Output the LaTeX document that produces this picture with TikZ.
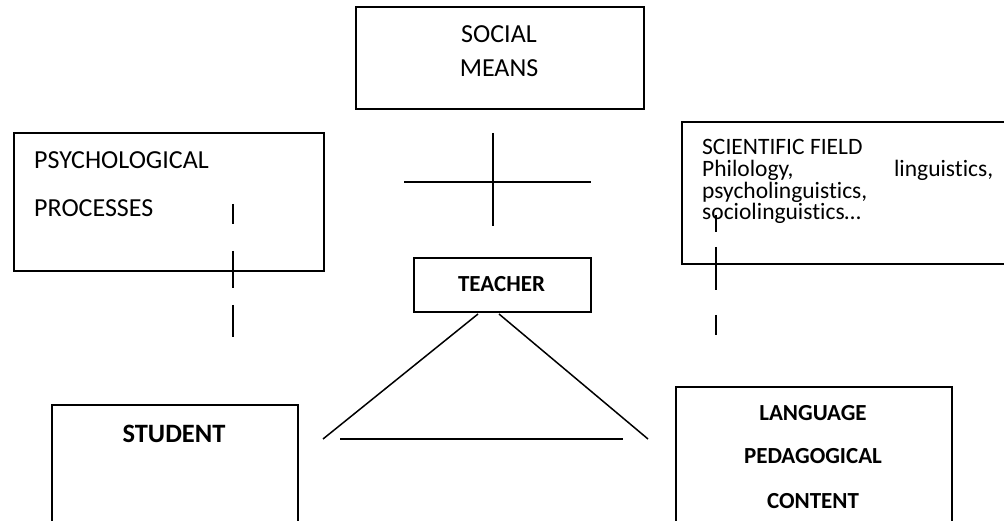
\documentclass[tikz,border=0pt]{standalone}
\usepackage{fontspec}
\setmainfont{Carlito}[Ligatures=NoCommon]
\begin{document}
\begin{tikzpicture}[x=1pt,y=-1pt,
  box/.style={draw,line width=1.6pt,inner sep=0pt,anchor=north west},
  ln/.style={line width=1.5pt},
  txt/.style={inner sep=0pt,font=\fontsize{26}{30}\selectfont},
  btxt/.style={inner sep=0pt,font=\fontsize{23}{28}\selectfont\bfseries},
  bbtxt/.style={inner sep=0pt,font=\fontsize{26.5}{30}\selectfont\bfseries},
  stxt/.style={inner sep=0pt,font=\fontsize{23.5}{26}\selectfont}]
\useasboundingbox (0,0) rectangle (1004,521);
\clip (0,0) rectangle (1004,521);
% boxes
\node[box,minimum width=288pt,minimum height=102pt] (social) at (355,6) {};
\node[box,minimum width=310pt,minimum height=138pt] (psych) at (13,132) {};
\node[box,minimum width=340pt,minimum height=142pt] (sci) at (681,121) {};
\node[box,minimum width=177pt,minimum height=54pt] (teacher) at (413,257) {};
\node[box,minimum width=246pt,minimum height=130pt] (student) at (51,404) {};
\node[box,minimum width=276pt,minimum height=150pt] (lang) at (675,386) {};
% texts
\node[txt,anchor=base] (socialA) at (499,43) {SOCIAL};
\node[txt,anchor=base] (socialB) at (499,77) {MEANS};
\node[txt,anchor=base west] (psychA) at (34,169) {PSYCHOLOGICAL};
\node[txt,anchor=base west] (psychB) at (34,217) {PROCESSES};
\node[stxt,anchor=base west] (sciA) at (702,155) {SCIENTIFIC FIELD};
\node[stxt,anchor=base west] (sciB) at (702,176.7) {\makebox[291pt][s]{Philology,\hfill linguistics,}};
\node[stxt,anchor=base west] (sciC) at (702,198.4) {psycholinguistics,};
\node[stxt,anchor=base west] (sciD) at (702,220) {sociolinguistics…};
\node[btxt,anchor=base] (teacherT) at (501.5,292) {TEACHER};
\node[bbtxt,anchor=base] (studentT) at (174,442) {STUDENT};
\node[btxt,anchor=base] (langA) at (813,420) {LANGUAGE};
\node[btxt,anchor=base] (langB) at (813,463) {PEDAGOGICAL};
\node[btxt,anchor=base] (langC) at (813,508) {CONTENT};
% cross
\coordinate (cvT) at (493,133);
\coordinate (cvB) at (493,226);
\coordinate (chL) at (404,182);
\coordinate (chR) at (591,182);
\draw[ln] (cvT) -- (cvB);
\draw[ln] (chL) -- (chR);
% triangle
\coordinate (tl1) at (478,314);
\coordinate (tl2) at (323,439);
\coordinate (tr1) at (499,314);
\coordinate (tr2) at (648,439);
\coordinate (tb1) at (340,439);
\coordinate (tb2) at (623,439);
\draw[ln] (tl1) -- (tl2);
\draw[ln] (tr1) -- (tr2);
\draw[ln] (tb1) -- (tb2);
% dashed lines left
\coordinate (la1) at (233,204); \coordinate (la2) at (233,224);
\coordinate (lb1) at (233,251); \coordinate (lb2) at (233,288);
\coordinate (lc1) at (233,305); \coordinate (lc2) at (233,337);
\draw[ln] (la1) -- (la2);
\draw[ln] (lb1) -- (lb2);
\draw[ln] (lc1) -- (lc2);
% dashed lines right
\coordinate (ra1) at (716,215); \coordinate (ra2) at (716,232);
\coordinate (rb1) at (716,247); \coordinate (rb2) at (716,290);
\coordinate (rc1) at (716,315); \coordinate (rc2) at (716,335);
\draw[ln] (ra1) -- (ra2);
\draw[ln] (rb1) -- (rb2);
\draw[ln] (rc1) -- (rc2);
\end{tikzpicture}
\end{document}
